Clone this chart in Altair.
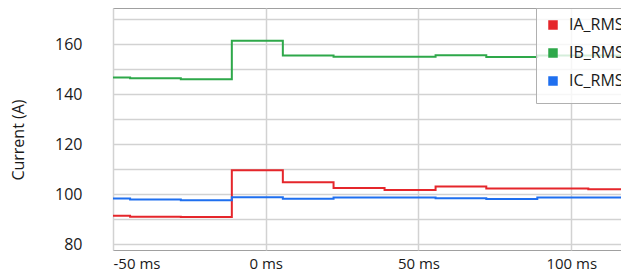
import altair as alt
import pandas as pd

# time stamps of the step changes (ms)
times = [-50, -44.4, -27.8, -11.1, 5.6, 22.2, 38.9, 55.6, 72.2, 88.9, 105.6, 117]
ia_rms = [91.4, 91.0, 90.9, 109.6, 104.8, 102.5, 101.7, 103.1, 102.3, 102.3, 102.0, 102.0]
ib_rms = [146.7, 146.4, 146.0, 161.4, 155.5, 155.0, 155.0, 155.6, 154.9, 155.5, 155.5, 155.5]
ic_rms = [98.3, 97.9, 97.6, 98.8, 98.2, 98.7, 98.7, 98.4, 98.1, 98.7, 98.7, 98.7]

series_names = ["IA_RMS", "IB_RMS", "IC_RMS"]
series_colors = ["#E5262B", "#2EA84A", "#1F6FEF"]

x_ticks = [-50, 0, 50, 100]
y_ticks = [80, 90, 100, 110, 120, 130, 140, 150, 160, 170]

rows = []
for name, vals in zip(series_names, [ia_rms, ib_rms, ic_rms]):
    for t, v in zip(times, vals):
        rows.append({"t": t, "v": v, "series": name})
df = pd.DataFrame(rows)

font = "Open Sans"
text_color = "#1a1a1a"
grid_color = "#d2d2d2"

chart = alt.Chart(df).mark_line(interpolate="step-after", strokeWidth=2, clip=True).encode(
    x=alt.X(
        "t:Q",
        scale=alt.Scale(domain=[-50, 116.3], nice=False, zero=False),
        axis=alt.Axis(
            values=x_ticks, labelExpr="datum.value + ' ms'", title=None,
            grid=True, gridColor=grid_color, gridWidth=1.5,
            ticks=False, tickSize=0, domain=False, labelFlush=True, labelOverlap=False,
            labelPadding=6, labelFontSize=15, labelFont=font, labelColor=text_color,
        ),
    ),
    y=alt.Y(
        "v:Q",
        scale=alt.Scale(domain=[77.75, 174.5], nice=False, zero=False),
        axis=alt.Axis(
            values=y_ticks, labelExpr="datum.value % 20 == 0 ? datum.label : ''",
            title="Current (A)", titleFont=font, titleFontSize=16, titleFontWeight="normal",
            titleColor=text_color, titleAngle=270, titleX=-90, titleY=131.5,
            titleAlign="center", titleBaseline="alphabetic",
            grid=True, gridColor=grid_color, gridWidth=1.5,
            ticks=False, tickSize=0, domain=False, labelOverlap=False, labelFlush=False,
            labelPadding=31, labelFontSize=16, labelFont=font, labelColor=text_color,
        ),
    ),
    color=alt.Color(
        "series:N",
        scale=alt.Scale(domain=series_names, range=series_colors),
        legend=alt.Legend(
            title=None, orient="none", legendX=423, legendY=0,
            symbolType="square", symbolSize=16, symbolStrokeWidth=5.5, symbolOpacity=1,
            labelFont=font, labelFontSize=16, labelColor=text_color,
            labelOffset=8, rowPadding=2, padding=9,
            fillColor="rgba(255,255,255,0.8)", strokeColor="#b0b0b0", cornerRadius=0,
        ),
    ),
).properties(
    width=508, height=242,
    padding={"left": 105, "top": 0, "right": 0, "bottom": 21},
    autosize=alt.AutoSizeParams(type="none"),
).configure_view(stroke="#a0a0a0", strokeWidth=1)

chart.save("out.html", embed_options={"renderer": "svg", "actions": False})
